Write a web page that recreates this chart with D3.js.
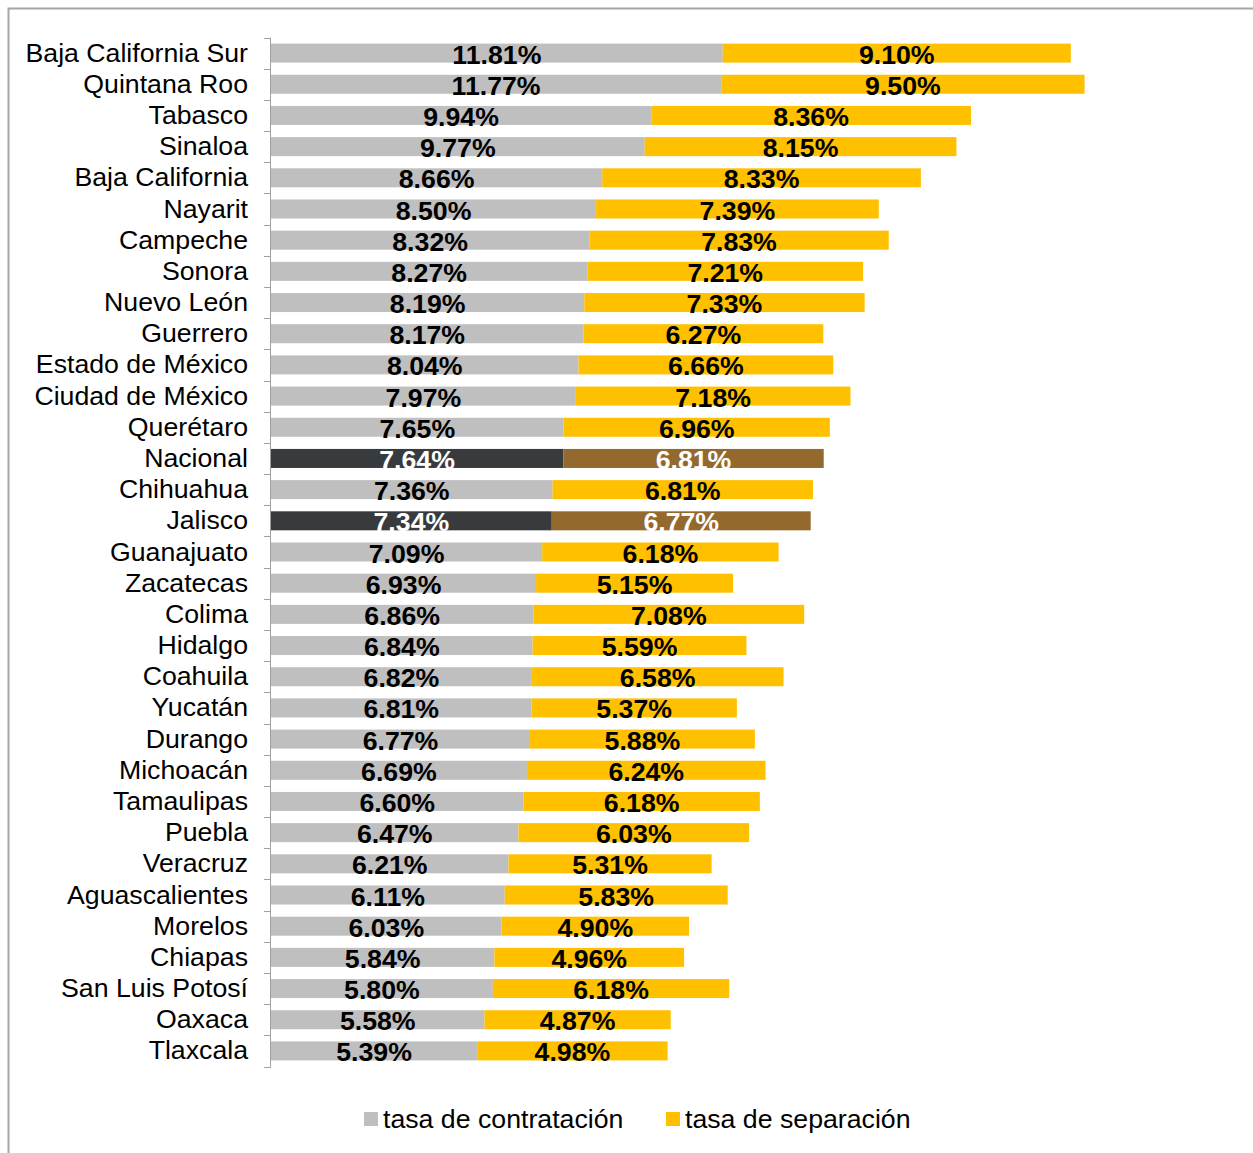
<!DOCTYPE html>
<html><head><meta charset="utf-8">
<script src="https://cdn.jsdelivr.net/npm/d3@7"></script>
<style>body{margin:0;background:#fff}svg{display:block}text{font-family:"Liberation Sans",Arial,sans-serif}</style>
</head><body>
<svg id="c" width="1253" height="1153"></svg>
<script>
const states = ["Baja California Sur","Quintana Roo","Tabasco","Sinaloa","Baja California","Nayarit","Campeche","Sonora","Nuevo León","Guerrero","Estado de México","Ciudad de México","Querétaro","Nacional","Chihuahua","Jalisco","Guanajuato","Zacatecas","Colima","Hidalgo","Coahuila","Yucatán","Durango","Michoacán","Tamaulipas","Puebla","Veracruz","Aguascalientes","Morelos","Chiapas","San Luis Potosí","Oaxaca","Tlaxcala"];
const contratacion = [11.81,11.77,9.94,9.77,8.66,8.50,8.32,8.27,8.19,8.17,8.04,7.97,7.65,7.64,7.36,7.34,7.09,6.93,6.86,6.84,6.82,6.81,6.77,6.69,6.60,6.47,6.21,6.11,6.03,5.84,5.80,5.58,5.39];
const separacion = [9.10,9.50,8.36,8.15,8.33,7.39,7.83,7.21,7.33,6.27,6.66,7.18,6.96,6.81,6.81,6.77,6.18,5.15,7.08,5.59,6.58,5.37,5.88,6.24,6.18,6.03,5.31,5.83,4.90,4.96,6.18,4.87,4.98];
const highlighted = ["Nacional","Jalisco"];
const seriesNames = ["tasa de contratación","tasa de separación"];

const svg = d3.select("#c");
// frame
svg.append("rect").attr("x",8.5).attr("y",8.5).attr("width",1400).attr("height",1400)
  .attr("fill","none").attr("stroke","#a6a6a6").attr("stroke-width",2);

const x = d3.scaleLinear().domain([0,22]).range([271, 271+38.25*22]);
const y = d3.scaleBand().domain(states).range([37.5,1066.5]).paddingInner(0.39).paddingOuter(0.195);
const bw = y.bandwidth();

const rows = states.map((s,i)=>({s, c:contratacion[i], p:separacion[i], hi:highlighted.includes(s)}));

const g = svg.append("g");
g.selectAll("rect.c").data(rows).join("rect")
  .attr("x",x(0)).attr("y",d=>y(d.s)).attr("width",d=>x(d.c)-x(0)).attr("height",bw)
  .attr("fill",d=>d.hi?"#383b3e":"#bfbfbf");
g.selectAll("rect.p").data(rows).join("rect")
  .attr("x",d=>x(d.c)).attr("y",d=>y(d.s)).attr("width",d=>x(d.c+d.p)-x(d.c)).attr("height",bw)
  .attr("fill",d=>d.hi?"#94692d":"#ffc000");

// value labels
g.selectAll("text.vc").data(rows).join("text")
  .attr("x",d=>(x(0)+x(d.c))/2).attr("y",d=>y(d.s)+bw+1)
  .attr("text-anchor","middle").attr("font-size",26.7).attr("font-weight","bold")
  .attr("fill",d=>d.hi?"#fff":"#000").text(d=>d.c.toFixed(2)+"%");
g.selectAll("text.vp").data(rows).join("text")
  .attr("x",d=>(x(d.c)+x(d.c+d.p))/2).attr("y",d=>y(d.s)+bw+1)
  .attr("text-anchor","middle").attr("font-size",26.7).attr("font-weight","bold")
  .attr("fill",d=>d.hi?"#fff":"#000").text(d=>d.p.toFixed(2)+"%");

// axis
const step = y.step();
const ax = svg.append("g").attr("stroke","#a0a0a0").attr("stroke-width",1);
const r = y.range();
ax.append("line").attr("x1",270.5).attr("x2",270.5).attr("y1",r[0]).attr("y2",r[1]);
d3.range(states.length+1).forEach(k=>{
  const yy = Math.round(r[0]+k*step)+0.5;
  ax.append("line").attr("x1",264).attr("x2",271).attr("y1",yy).attr("y2",yy);
});
svg.selectAll("text.cat").data(rows).join("text")
  .attr("x",248).attr("y",d=>y(d.s)+bw-1).attr("text-anchor","end")
  .attr("font-size",26.7).attr("fill","#000").text(d=>d.s);

// legend
const leg = [{n:seriesNames[0],c:"#bfbfbf",x:364},{n:seriesNames[1],c:"#ffc000",x:666}];
leg.forEach(l=>{
  svg.append("rect").attr("x",l.x).attr("y",1112).attr("width",14).attr("height",14).attr("fill",l.c);
  svg.append("text").attr("x",l.x+19).attr("y",1128).attr("font-size",26.7).attr("fill","#000").text(l.n);
});
</script>
</body></html>
